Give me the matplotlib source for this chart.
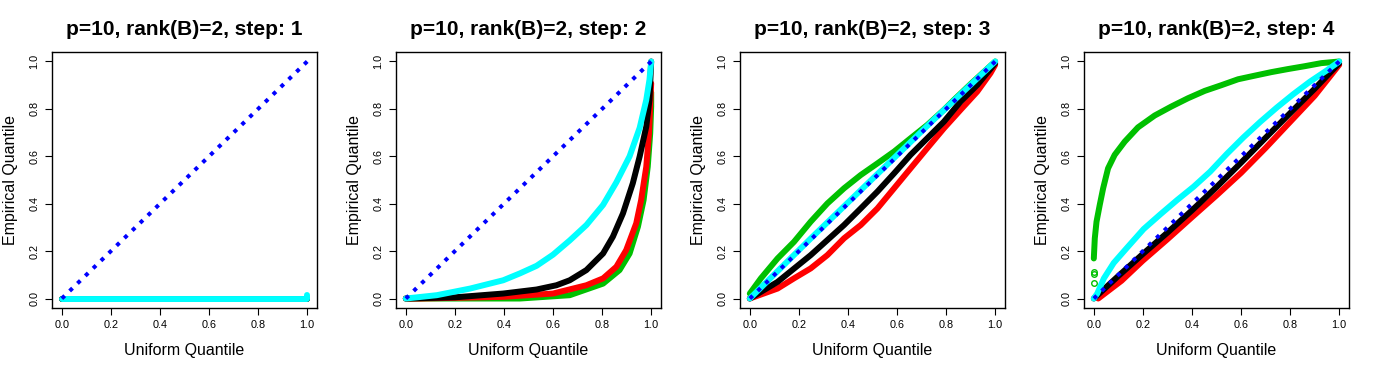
import matplotlib
matplotlib.use("Agg")
import matplotlib.pyplot as plt

plt.rcParams['font.family'] = ['Liberation Sans', 'DejaVu Sans']

titles = ["p=10, rank(B)=2, step: 1", "p=10, rank(B)=2, step: 2",
          "p=10, rank(B)=2, step: 3", "p=10, rank(B)=2, step: 4"]
ticks = [0.0, 0.2, 0.4, 0.6, 0.8, 1.0]
tick_labels = ["0.0", "0.2", "0.4", "0.6", "0.8", "1.0"]

# step 1: everything collapsed at zero
s1_green_x = [0.0, 1.0]
s1_green_y = [0.0, 0.0]
s1_red_x = [0.0, 1.0]
s1_red_y = [0.0, 0.0]
s1_black_x = [0.0, 1.0]
s1_black_y = [0.0, 0.0]
s1_cyan_x = [0.0, 0.5, 1.0, 1.0]
s1_cyan_y = [0.0, 0.0, 0.0, 0.015]

# step 2
s2_green_x = [0.0, 0.465, 0.668, 0.804, 0.871, 0.912, 0.946, 0.969, 0.986, 0.996, 1.0, 1.0]
s2_green_y = [0.0, 0.0, 0.014, 0.063, 0.12, 0.19, 0.303, 0.415, 0.556, 0.697, 0.81, 0.87]
s2_red_x = [0.0, 0.058, 0.397, 0.6, 0.736, 0.804, 0.858, 0.898, 0.939, 0.959, 0.98, 0.991, 0.997, 1.0]
s2_red_y = [0.0, 0.0, 0.007, 0.021, 0.056, 0.085, 0.134, 0.204, 0.317, 0.415, 0.556, 0.697, 0.838, 0.908]
s2_black_x = [0.0, 0.2, 0.397, 0.533, 0.614, 0.668, 0.736, 0.804, 0.844, 0.885, 0.925, 0.953, 0.98, 0.993, 1.0]
s2_black_y = [0.0, 0.005, 0.021, 0.038, 0.056, 0.077, 0.12, 0.19, 0.261, 0.359, 0.486, 0.599, 0.725, 0.838, 1.0]
s2_cyan_x = [0.0, 0.126, 0.262, 0.397, 0.465, 0.533, 0.6, 0.668, 0.736, 0.804, 0.858, 0.912, 0.953,
             0.98, 0.993, 1.0]
s2_cyan_y = [0.0, 0.014, 0.042, 0.077, 0.106, 0.138, 0.185, 0.245, 0.31, 0.395, 0.49, 0.6, 0.72,
             0.838, 0.923, 1.0]

# step 3
s3_green_x = [0.0, 0.045, 0.113, 0.18, 0.248, 0.316, 0.384, 0.452, 0.52, 0.588, 0.655, 0.723, 0.791, 0.832, 0.9, 1.0]
s3_green_y = [0.021, 0.085, 0.169, 0.239, 0.324, 0.401, 0.465, 0.521, 0.570, 0.620, 0.676, 0.732, 0.796, 0.838, 0.905, 1.0]
s3_red_x = [0.0, 0.113, 0.18, 0.248, 0.316, 0.384, 0.452, 0.52, 0.588, 0.655, 0.723, 0.791, 0.859, 0.927, 0.981, 1.0]
s3_red_y = [0.0, 0.042, 0.085, 0.127, 0.183, 0.254, 0.31, 0.38, 0.465, 0.549, 0.634, 0.718, 0.796, 0.873, 0.951, 0.986]
s3_black_x = [0.0, 0.113, 0.248, 0.384, 0.452, 0.52, 0.588, 0.655, 0.723, 0.791, 0.859, 0.927, 1.0]
s3_black_y = [0.0, 0.07, 0.183, 0.31, 0.38, 0.451, 0.528, 0.606, 0.676, 0.746, 0.831, 0.901, 0.993]
s3_cyan_x = [0.0, 0.25, 0.5, 0.75, 1.0]
s3_cyan_y = [0.0, 0.255, 0.505, 0.755, 1.0]

# step 4
s4_green_x = [0.0, 0.004, 0.011, 0.024, 0.038, 0.058, 0.085, 0.126, 0.18, 0.248, 0.316, 0.384,
              0.452, 0.52, 0.588, 0.655, 0.723, 0.791, 0.859, 0.927, 1.0]
s4_green_y = [0.169, 0.254, 0.324, 0.394, 0.465, 0.549, 0.606, 0.662, 0.722, 0.772, 0.81, 0.845,
              0.876, 0.9, 0.925, 0.94, 0.955, 0.968, 0.98, 0.993, 1.0]
s4_green_out_x = [0.0, 0.0, 0.002]
s4_green_out_y = [0.066, 0.102, 0.11]
s4_red_x = [0.018, 0.113, 0.2, 0.3, 0.4, 0.5, 0.6, 0.7, 0.8, 0.9, 1.0]
s4_red_y = [0.0, 0.075, 0.16, 0.25, 0.343, 0.435, 0.53, 0.635, 0.745, 0.855, 0.986]
s4_black_x = [0.0, 0.1, 0.2, 0.3, 0.4, 0.5, 0.6, 0.7, 0.8, 0.9, 1.0]
s4_black_y = [0.0, 0.095, 0.188, 0.278, 0.372, 0.47, 0.573, 0.678, 0.782, 0.885, 0.993]
s4_cyan_x = [0.0, 0.014, 0.041, 0.081, 0.136, 0.203, 0.271, 0.339, 0.407, 0.474, 0.542, 0.61,
             0.678, 0.745, 0.813, 0.881, 0.949, 1.0]
s4_cyan_y = [0.0, 0.021, 0.085, 0.15, 0.215, 0.293, 0.355, 0.415, 0.472, 0.535, 0.61, 0.68,
             0.745, 0.805, 0.862, 0.915, 0.962, 1.0]

diag = [0.0, 1.0]

panels = [
    [(s1_green_x, s1_green_y), (s1_red_x, s1_red_y), (s1_black_x, s1_black_y), (s1_cyan_x, s1_cyan_y)],
    [(s2_green_x, s2_green_y), (s2_red_x, s2_red_y), (s2_black_x, s2_black_y), (s2_cyan_x, s2_cyan_y)],
    [(s3_green_x, s3_green_y), (s3_red_x, s3_red_y), (s3_black_x, s3_black_y), (s3_cyan_x, s3_cyan_y)],
    [(s4_green_x, s4_green_y), (s4_red_x, s4_red_y), (s4_black_x, s4_black_y), (s4_cyan_x, s4_cyan_y)],
]
colors = ['#00C000', '#FF0000', '#000000', '#00FFFF']

W, H = 1376, 373
fig = plt.figure(figsize=(W / 100, H / 100), dpi=100)

for i in range(4):
    x0 = (344 * i + 52) / W
    ax = fig.add_axes([x0, (H - 308) / H, 265 / W, 256 / H])
    for (xs, ys), c in zip(panels[i], colors):
        ax.plot(xs, ys, color=c, lw=4.3, solid_capstyle='round', solid_joinstyle='round')
    if i == 3:
        ax.plot(s4_green_out_x, s4_green_out_y, 'o', mfc='none', mec=colors[0], ms=4, mew=1)
    ax.plot(diag, diag, color='blue', lw=2.9, linestyle=(0, (1, 1.7)), dash_capstyle='butt')
    ax.set_xlim(-0.04, 1.04)
    ax.set_ylim(-0.04, 1.04)
    ax.set_xticks(ticks)
    ax.set_xticklabels(tick_labels)
    ax.set_yticks(ticks)
    ax.set_yticklabels(tick_labels, rotation=90, va='center')
    ax.tick_params(direction='out', length=5, width=0.8, labelsize=7.8, pad=4)
    for sp in ax.spines.values():
        sp.set_linewidth(1.0)
    ax.set_title(titles[i], fontsize=15, fontweight='bold', pad=12)
    ax.set_xlabel("Uniform Quantile", fontsize=11.5, labelpad=9)
    ax.set_ylabel("Empirical Quantile", fontsize=11.5, labelpad=8)

fig.savefig("out.png", dpi=100)
